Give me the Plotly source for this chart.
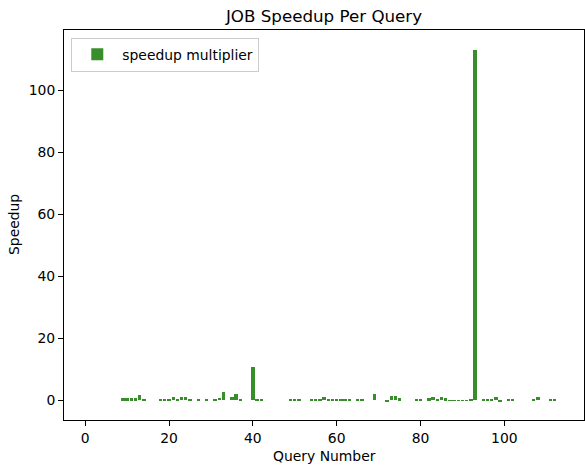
import plotly.graph_objects as go

queries = list(range(1, 114))
values_map = {
    9: 0.6, 10: 0.5, 11: 0.6, 12: 0.5, 13: 1.5, 14: 0.3,
    18: 0.3, 19: 0.4, 20: 0.1, 21: 0.9, 22: 0.3, 23: 1.0, 24: 0.9, 25: 0.4,
    27: 0.1, 29: 0.1, 31: 0.2, 32: 0.8, 33: 2.6, 35: 0.9, 36: 1.8, 37: 0.2,
    40: 10.7, 41: 0.1, 42: 0.1,
    49: 0.1, 50: 0.3, 51: 0.1,
    54: 0.4, 55: 0.2, 56: 0.2, 57: 0.9, 58: 0.1, 59: 0.1, 60: 0.1, 61: 0.1,
    62: 0.1, 63: 0.1, 65: 0.1, 66: 0.1,
    69: 2.0,
    72: -0.6, 73: 1.2, 74: 1.3, 75: 0.5,
    79: 0.1, 80: 0.1, 82: 0.5, 83: 1.0, 84: 0.2, 85: 0.9, 86: 0.5,
    87: -0.2, 88: -0.2, 89: -0.1, 90: -0.1, 91: -0.1, 92: 0.1, 93: 113.0,
    95: 0.1, 96: 0.1, 97: 0.3, 98: 1.0, 99: -0.4, 101: 0.1, 102: 0.1,
    107: 0.1, 108: 0.9, 111: 0.1, 112: 0.1,
}
speedup = [values_map.get(q, 0.0) for q in queries]
x_ticks = [0, 20, 40, 60, 80, 100]
y_ticks = [0, 20, 40, 60, 80, 100]

FONT = "DejaVu Sans"
W, H = 585, 465
fig = go.Figure()
fig.add_trace(go.Bar(
    x=queries, y=speedup, width=0.8, name="speedup multiplier",
    marker=dict(color="#388E2A", line=dict(width=0)),
    showlegend=True,
))

axis_common = dict(
    showline=True, linecolor="black", linewidth=1, mirror=True,
    ticks="outside", ticklen=5, tickwidth=1, tickcolor="black",
    showgrid=False, zeroline=False, automargin=False,
    tickfont=dict(family=FONT, size=13.9, color="black"),
)
fig.update_layout(
    width=W, height=H,
    margin=dict(l=64, r=1, t=30, b=45, autoexpand=False),
    paper_bgcolor="white", plot_bgcolor="white",
    font=dict(family=FONT, color="black"),
    title=dict(text="JOB Speedup Per Query", x=0.5, xref="paper", xanchor="center",
               y=1 - 16 / H, yref="container", yanchor="middle",
               font=dict(family=FONT, size=16.7, color="black")),
    xaxis=dict(range=[-5.05, 119.0], tickvals=x_ticks, **axis_common),
    yaxis=dict(range=[-6.45, 119.4], tickvals=y_ticks, **axis_common),
    legend=dict(x=0.014, y=0.98, xanchor="left", yanchor="top",
                bordercolor="#cccccc", borderwidth=1, bgcolor="rgba(255,255,255,0.8)",
                itemwidth=40, font=dict(family=FONT, size=13.9)),
    bargap=0,
    annotations=[
        dict(text="Query Number", xref="paper", yref="paper", x=0.5, y=-(456 - 420) / (H - 75),
             xanchor="center", yanchor="middle", showarrow=False,
             font=dict(family=FONT, size=13.9, color="black")),
        dict(text="Speedup", xref="paper", yref="paper", x=-(64 - 14) / (W - 65), y=0.5,
             xanchor="center", yanchor="middle", showarrow=False, textangle=-90,
             font=dict(family=FONT, size=13.9, color="black")),
    ],
)
fig.write_html("out.html", config={"displayModeBar": False},
               post_script="document.body.style.margin='0';document.body.style.padding='0';")
